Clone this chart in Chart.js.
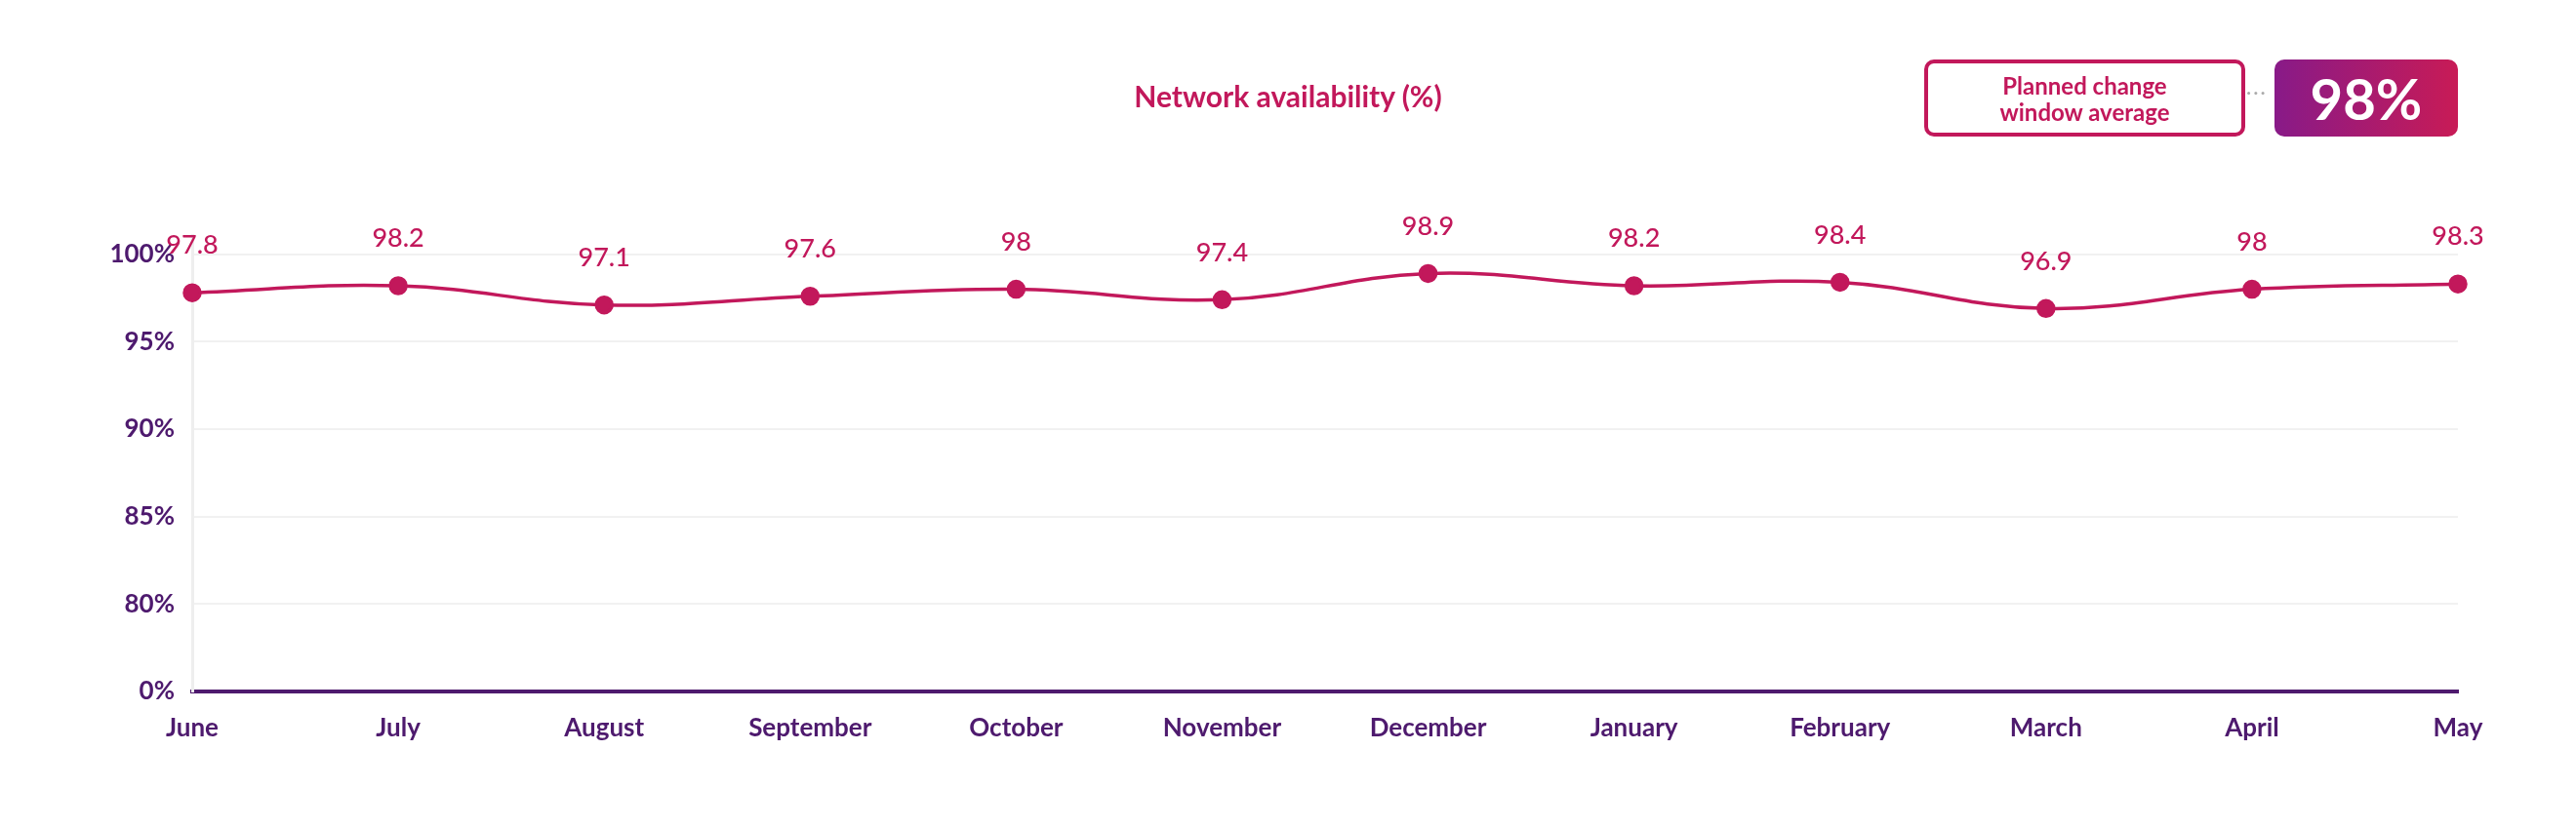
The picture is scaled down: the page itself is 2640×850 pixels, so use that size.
<!DOCTYPE html>
<html><head><meta charset="utf-8">
<script src="https://cdn.jsdelivr.net/npm/chart.js@4"></script>
<style>
html,body{margin:0;padding:0;background:#fff;font-family:Lato,sans-serif;}
#wrap{position:relative;width:2640px;height:850px;}
#title{position:absolute;left:0;width:2640px;top:80px;text-align:center;color:#c2185b;font-weight:bold;font-size:30px;}
#box1{position:absolute;left:1972px;top:61px;width:321px;height:71px;border:4px solid #c2185b;border-radius:10px;color:#c2185b;font-weight:bold;font-size:24px;line-height:27px;text-align:center;display:flex;align-items:center;justify-content:center;}
#dots{position:absolute;left:2302px;top:88px;color:#aaa;font-size:20px;letter-spacing:2px;line-height:10px;}
#box2{position:absolute;left:2331px;top:61px;width:188px;height:79px;border-radius:10px;background:linear-gradient(90deg,#881a88,#c81b56);color:#fff;font-weight:bold;font-size:58px;display:flex;align-items:center;justify-content:center;}
canvas{position:absolute;left:0;top:0;}
</style></head><body>
<div id="wrap">
<canvas id="c" width="2640" height="850"></canvas>
<div id="title">Network availability (%)</div>
<div id="box1">Planned change<br>window average</div>
<div id="dots">···</div>
<div id="box2">98%</div>
</div>
<script>
const categories=["June","July","August","September","October","November","December","January","February","March","April","May"];
const values=[97.8,98.2,97.1,97.6,98,97.4,98.9,98.2,98.4,96.9,98,98.3];
const tickLabels=["0%","80%","85%","90%","95%","100%"];
const tickValues=[0,80,85,90,95,100];
function toScale(v){return v<=80? v/80 : 1+(v-80)/5;}
const LINE='#c2185b', PURPLE='#4e1a6e';
const extras={id:'extras',
 beforeDatasetsDraw(ch){const m=ch.getDatasetMeta(0).data;const a=ch.chartArea;const c=ch.ctx;
  c.save();c.strokeStyle=LINE;c.lineWidth=3.5;c.beginPath();
  c.moveTo(a.left,m[0].y);c.lineTo(m[0].x,m[0].y);
  c.moveTo(m[m.length-1].x,m[m.length-1].y);c.lineTo(a.right,m[m.length-1].y);c.stroke();c.restore();},
 afterDatasetsDraw(ch){const m=ch.getDatasetMeta(0).data;const c=ch.ctx;
  c.save();c.fillStyle=LINE;c.font='500 27px Lato';c.textAlign='center';c.textBaseline='bottom';
  m.forEach((p,i)=>c.fillText(String(values[i]),p.x,p.y-35));c.restore();}
};
new Chart(document.getElementById('c'),{type:'line',
 data:{labels:categories,datasets:[{data:values.map(toScale),borderColor:LINE,backgroundColor:LINE,borderWidth:3.5,tension:0.4,pointRadius:8,pointHoverRadius:8,fill:false}]},
 options:{responsive:false,animation:false,devicePixelRatio:1,
  layout:{padding:{top:241,right:121,left:0,bottom:0}},
  plugins:{legend:{display:false},tooltip:{enabled:false}},
  scales:{
   x:{afterFit(s){s.height=141;},grid:{display:false},border:{color:PURPLE,width:4},
      ticks:{color:PURPLE,font:{family:'Lato',size:26,weight:'bold'},padding:14}},
   y:{min:0,max:5.22,afterFit(s){s.width=197;},
      afterBuildTicks(s){s.ticks=tickValues.map(v=>({value:toScale(v)}));},
      ticks:{color:PURPLE,font:{family:'Lato',size:26,weight:'bold'},padding:18,
        callback(v){const i=tickValues.findIndex(t=>Math.abs(toScale(t)-v)<1e-6);return i>=0?tickLabels[i]:'';}},
      grid:{color:'#f1f1f1',lineWidth:2,drawTicks:false},border:{color:'#eeeeee',width:3}}
  }},
 plugins:[extras]});
</script>
</body></html>
